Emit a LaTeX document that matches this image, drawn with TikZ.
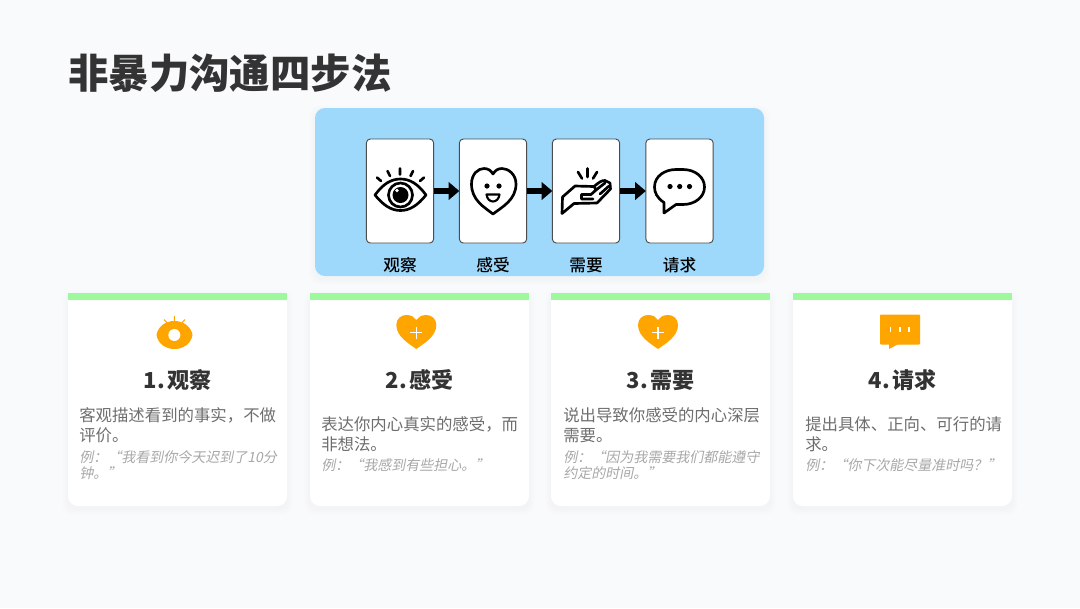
\documentclass[tikz,border=0pt]{standalone}
\usepackage{fontspec}
\setmainfont{Noto Sans CJK SC}
\newfontfamily\slantfont[FakeSlant=0.2]{Noto Sans CJK SC}
\newfontfamily\mediumfont{Noto Sans CJK SC Medium}
\usetikzlibrary{arrows.meta}
\definecolor{pagebg}{HTML}{F8FAFC}
\definecolor{panelblue}{HTML}{9ED9FC}
\definecolor{bargreen}{HTML}{9CFA9C}
\definecolor{iconorange}{HTML}{FFA500}
\definecolor{titlegray}{HTML}{333333}
\definecolor{bodygray}{HTML}{6E6E6E}
\definecolor{examplegray}{HTML}{A8A8A8}
\tikzset{
    stepbox/.style={draw=black!70, fill=white, rounded corners=3pt, line width=0.7pt,
        minimum width=50.5pt, minimum height=78pt, inner sep=0pt, outer sep=0pt},
    stepname/.style={font=\fontsize{12.5}{15}\selectfont\mediumfont, text=black},
    steparrow/.style={-{Triangle[length=8pt,width=13pt]}, line width=4pt, black},
    icon/.style={line width=2pt, black, line join=round, line cap=round},
    cardtitle/.style={font=\fontsize{16.5}{20}\selectfont\bfseries, text=titlegray},
    cardbody/.style={anchor=west, align=left, inner sep=0pt, text=bodygray,
        font=\fontsize{12.3}{15}\selectfont},
    cardexample/.style={anchor=west, align=left, inner sep=0pt, text=examplegray,
        font=\fontsize{10.5}{12}\selectfont\slantfont},
}
\newcommand{\softshadow}[5]{%
    \foreach \s in {1,...,6}
        \fill[black, opacity=0.005, rounded corners=#5]
            (#1-\s,#2-\s+3) rectangle (#3+\s,#4+\s+3);
}
\newcommand{\heartfill}[1]{%
    \fill[iconorange] (#1,349) .. controls (#1-6,344.5) and (#1-20,337) .. (#1-20,325)
        .. controls (#1-20,318.5) and (#1-15,315) .. (#1-10,315)
        .. controls (#1-5,315) and (#1-2,317) .. (#1,320)
        .. controls (#1+2,317) and (#1+5,315) .. (#1+10,315)
        .. controls (#1+15,315) and (#1+20,318.5) .. (#1+20,325)
        .. controls (#1+20,337) and (#1+6,344.5) .. (#1,349) -- cycle;
    \draw[white, line width=1.1pt] (#1-6,332.5) -- (#1+6,332.5) (#1,326.5) -- (#1,338.5);
}
\begin{document}
\begin{tikzpicture}[x=0.75pt, y=-0.75pt]
    \useasboundingbox (0,0) rectangle (1080,608);
    \fill[pagebg] (0,0) rectangle (1080,608);

    % Title
    \node[anchor=west, inner sep=0pt, text=titlegray, font=\fontsize{30.3}{36}\selectfont\bfseries]
        (title) at (68,73) {非暴力沟通四步法};

    % Blue panel
    \softshadow{315}{108}{764}{276}{7.5pt}
    \fill[panelblue, rounded corners=7.5pt] (315,108) rectangle (764,276);

    % Step boxes
    \node[stepbox] (observe) at (400,191) {};
    \node[stepbox] (feel) at (493,191) {};
    \node[stepbox] (need) at (586,191) {};
    \node[stepbox] (ask) at (679.5,191) {};
    \draw[steparrow] (observe) -- (feel);
    \draw[steparrow] (feel) -- (need);
    \draw[steparrow] (need) -- (ask);

    \node[stepname] (observename) at (400,265) {观察};
    \node[stepname] (feelname) at (493,265) {感受};
    \node[stepname] (needname) at (586,265) {需要};
    \node[stepname] (askname) at (679.5,265) {请求};

    % Eye
    \draw[icon] (375,195) .. controls (383,184) and (391,179) .. (400.5,179)
        .. controls (410,179) and (418,184) .. (426,195)
        .. controls (418,205) and (410,210.5) .. (400.5,210.5)
        .. controls (391,210.5) and (383,205) .. (375,195) -- cycle;
    \draw[icon] (400.5,195) circle (12);
    \fill (400.5,195) circle (8);
    \fill[white] (397,190.5) circle (1.8);
    \draw[icon] (400,168.5) -- (400,174.5) (387.5,171) -- (390,176) (413,171) -- (410.5,176)
        (377,177.5) -- (381,181) (424,177.5) -- (420,181);

    % Heart with face
    \draw[icon] (493,214) .. controls (484,207) and (471.5,200) .. (471.5,184)
        .. controls (471.5,174) and (478,168.5) .. (484,168.5)
        .. controls (488,168.5) and (491,170.5) .. (493,174)
        .. controls (495,170.5) and (498,168.5) .. (502,168.5)
        .. controls (508,168.5) and (516,174) .. (516,184)
        .. controls (516,200) and (502,207) .. (493,214) -- cycle;
    \fill (487,186) circle (2.6) (499,186) circle (2.6);
    \draw[icon, line width=1.6pt] (486.5,194.5) -- (499.5,194.5)
        .. controls (499,199) and (496,201.5) .. (493,201.5)
        .. controls (490,201.5) and (487,199) .. (486.5,194.5) -- cycle;

    % Hand
    \draw[icon] (562,213.5) -- (562.5,197) -- (575,186) -- (594,186.5)
        .. controls (598,183) and (602,180) .. (605,180.5) -- (610,183) -- (610.5,189)
        -- (597,203) -- (574,203.5) -- cycle;
    \draw[icon] (594,186.5) -- (596,190) -- (591,194.5) -- (581.5,194.5) -- (581.5,199) -- (593,199)
        (596,190) -- (605,183) (600,194) -- (609,186);
    \draw[icon] (587.5,168.5) -- (587.5,177) (578,172) -- (582,178.5) (597,172) -- (593,178.5);

    % Speech bubble
    \draw[icon] (664,202.5) .. controls (657,198) and (654.5,192.5) .. (654.5,187)
        .. controls (654.5,176) and (665,169.5) .. (676,169.5) -- (683,169.5)
        .. controls (695,169.5) and (704.5,177) .. (704.5,187)
        .. controls (704.5,197) and (695,204.5) .. (683,204.5) -- (676,204.5)
        -- (664,213) -- cycle;
    \fill (670,186.5) circle (2.6) (679.7,186.5) circle (2.6) (689.5,186.5) circle (2.6);

    % Cards
    \foreach \x in {68,310,551,793} {
        \softshadow{\x}{293}{\x+219}{506}{7.5pt}
        \fill[white, rounded corners=7.5pt] (\x,293) rectangle (\x+219,506);
        \fill[bargreen] (\x,293) rectangle (\x+219,300);
    }

    % Card icons
    \fill[iconorange] (156.5,335) .. controls (158,326) and (166,321) .. (174.3,321)
        .. controls (183,321) and (191,326) .. (192.5,335)
        .. controls (191,344) and (183,349) .. (174.3,349)
        .. controls (166,349) and (158,344) .. (156.5,335) -- cycle;
    \fill[white] (174.3,335) circle (6);
    \draw[iconorange, line width=0.8pt] (174.3,316) -- (174.3,322) (164,319.5) -- (167,322.5)
        (185,319.5) -- (182,322.5);
    \heartfill{416.3}
    \heartfill{658}
    \fill[iconorange, rounded corners=0.7pt] (880,314.5) rectangle (920,344.5);
    \fill[iconorange] (889,344) -- (889,349) -- (898.5,344) -- cycle;
    \foreach \x in {890.3,899.7,909}
        \fill[white] (\x-0.8,326.5) rectangle (\x+0.8,331.5);

    % Card titles
    \node[cardtitle] (observetitle) at (177.5,380) {1.\hspace{1.5pt}观察};
    \node[cardtitle] (feeltitle) at (419.5,380) {2.\hspace{1.5pt}感受};
    \node[cardtitle] (needtitle) at (660.5,380) {3.\hspace{1.5pt}需要};
    \node[cardtitle] (asktitle) at (902.5,380) {4.\hspace{1.5pt}请求};

    % Card texts
    \node[cardbody] (observebody) at (79,425.5) {客观描述看到的事实，不做\\评价。};
    \node[cardexample] (observeexample) at (79,465) {例：“我看到你今天迟到了10分\\钟。”};
    \node[cardbody] (feelbody) at (321,434) {表达你内心真实的感受，而\\非想法。};
    \node[cardexample] (feelexample) at (321,465) {例：“我感到有些担心。”};
    \node[cardbody] (needbody) at (563,425.5) {说出导致你感受的内心深层\\需要。};
    \node[cardexample] (needexample) at (563,465) {例：“因为我需要我们都能遵守\\约定的时间。”};
    \node[cardbody] (askbody) at (805,434) {提出具体、正向、可行的请\\求。};
    \node[cardexample] (askexample) at (805,465) {例：“你下次能尽量准时吗？”};
\end{tikzpicture}
\end{document}
